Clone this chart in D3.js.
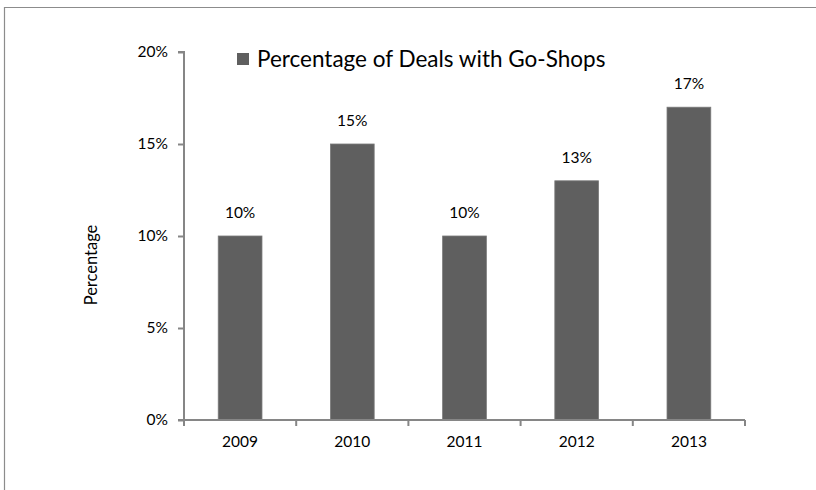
<!DOCTYPE html>
<html>
<head>
<meta charset="utf-8">
<script src="https://cdn.jsdelivr.net/npm/d3@7"></script>
<style>
  html, body { margin: 0; padding: 0; background: #fff; }
  svg { display: block; }
  text { font-family: Lato, "Open Sans", sans-serif; fill: #000; }
</style>
</head>
<body>
<svg id="chart" width="816" height="490"></svg>
<script>
// Share of deals that included a go-shop provision, by year
const years = ["2009", "2010", "2011", "2012", "2013"];
const shares = [10, 15, 10, 13, 17];
const yTicks = [0, 5, 10, 15, 20];
const seriesName = "Percentage of Deals with Go-Shops";
const yTitle = "Percentage";

const svg = d3.select("#chart");
const plotLeft = 184, plotRight = 745, plotTop = 52, plotBottom = 420;
const axisColor = "#868686";
const barColor = "#5f5f5f";
const labelSize = "15.5px";

// outer frame (open on the right and bottom)
svg.append("path")
  .attr("d", "M4.5,490 L4.5,7.5 L816,7.5")
  .attr("fill", "none")
  .attr("stroke", "#8c8c8c")
  .attr("stroke-width", 1.2);

const x = d3.scaleBand().domain(years).range([plotLeft, plotRight]).paddingInner(0.61).paddingOuter(0.305);
const y = d3.scaleLinear().domain([0, 20]).range([plotBottom, plotTop]);

// bars
svg.append("g").selectAll("rect")
  .data(years.map((yr, i) => ({ yr, v: shares[i] })))
  .join("rect")
  .attr("x", d => x(d.yr))
  .attr("width", x.bandwidth())
  .attr("y", d => y(d.v))
  .attr("height", d => y(0) - y(d.v))
  .attr("fill", barColor)
  .attr("stroke", "#7a7a7a")
  .attr("stroke-width", 0.8);

// value labels
svg.append("g").selectAll("text")
  .data(years.map((yr, i) => ({ yr, v: shares[i] })))
  .join("text")
  .attr("x", d => x(d.yr) + x.bandwidth() / 2)
  .attr("y", d => y(d.v) - 18)
  .attr("text-anchor", "middle")
  .style("font-size", labelSize)
  .text(d => d.v + "%");

// y axis
const yAxis = svg.append("g")
  .attr("transform", `translate(${plotLeft},0)`)
  .call(d3.axisLeft(y).tickValues(yTicks).tickFormat(d => d + "%").tickSize(6).tickPadding(10));
yAxis.select(".domain").attr("stroke", axisColor).attr("stroke-width", 2).attr("d", `M-6,${plotTop}H0V${plotBottom}H-6`);
yAxis.selectAll(".tick line").attr("stroke", axisColor).attr("stroke-width", 2);
yAxis.selectAll(".tick text").style("font-size", labelSize).style("font-family", "Lato, 'Open Sans', sans-serif").attr("fill", "#000");

// x axis with ticks at category boundaries
const xAxisG = svg.append("g").attr("transform", `translate(0,${plotBottom})`);
xAxisG.append("line")
  .attr("x1", plotLeft).attr("x2", plotRight)
  .attr("stroke", axisColor).attr("stroke-width", 2);
const step = x.step();
const boundaries = d3.range(years.length + 1).map(i => plotLeft + i * step);
xAxisG.selectAll("line.tk")
  .data(boundaries)
  .join("line")
  .attr("class", "tk")
  .attr("x1", d => d).attr("x2", d => d)
  .attr("y1", 0).attr("y2", 6)
  .attr("stroke", axisColor).attr("stroke-width", 2);
xAxisG.selectAll("text")
  .data(years)
  .join("text")
  .attr("x", d => x(d) + x.bandwidth() / 2)
  .attr("y", 27)
  .attr("text-anchor", "middle")
  .style("font-size", labelSize)
  .text(d => d);

// y axis title
svg.append("text")
  .attr("transform", `translate(97,265) rotate(-90)`)
  .attr("text-anchor", "middle")
  .style("font-size", "16.5px")
  .text(yTitle);

// legend
const lg = svg.append("g").attr("transform", "translate(237,53)");
lg.append("rect").attr("width", 12).attr("height", 12).attr("fill", barColor);
lg.append("text")
  .attr("x", 20).attr("y", 14)
  .style("font-size", "22.5px")
  .text(seriesName);
</script>
</body>
</html>
